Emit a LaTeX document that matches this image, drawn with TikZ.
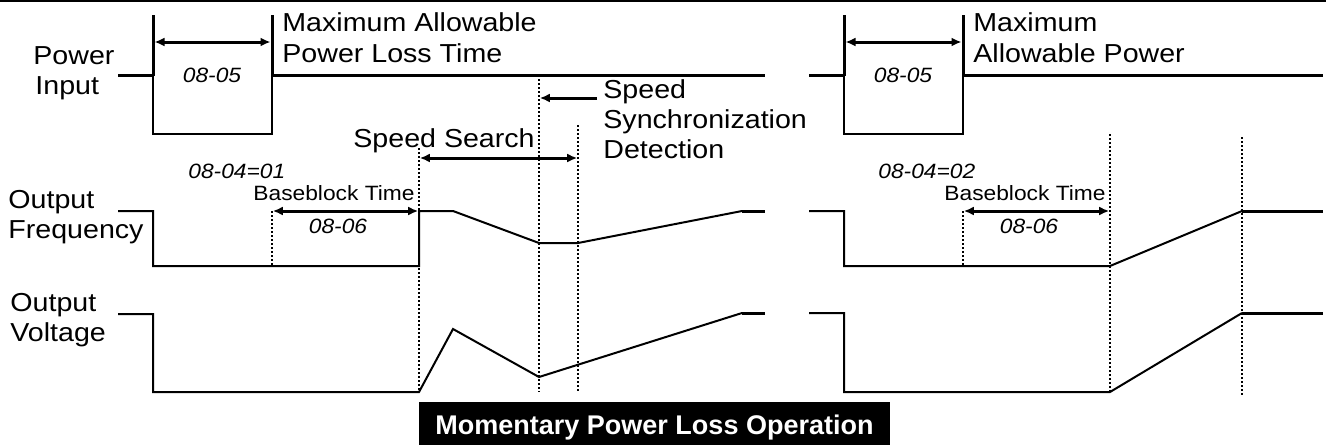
\documentclass[tikz,border=0pt]{standalone}
\usepackage{fontspec}
\setmainfont{Liberation Sans}
\newfontfamily\wf[FakeStretch=1.1]{Liberation Sans}
\usetikzlibrary{arrows.meta}
\begin{document}
\begin{tikzpicture}[x=0.5pt,y=-0.5pt,
  sig/.style={line width=1pt, line join=miter},
  hi/.style={line width=1.5pt},
  dotl/.style={line width=0.75pt, dash pattern=on 1.2pt off 0.8pt},
  dim/.style={line width=1.5pt, {Latex[length=5pt,width=4.5pt]}-{Latex[length=5pt,width=4.5pt]}},
  onearrow/.style={line width=1.5pt, -{Latex[length=5pt,width=4.5pt]}},
  lbl/.style={font=\wf\fontsize{13}{15}\selectfont, anchor=base west, inner sep=0},
  sm/.style={font=\wf\fontsize{10.35}{12}\selectfont, anchor=base west, inner sep=0},
  smi/.style={font=\wf\itshape\fontsize{10.35}{12}\selectfont, anchor=base, inner sep=0},
  smil/.style={font=\wf\itshape\fontsize{10.35}{12}\selectfont, anchor=base west, inner sep=0}]
\useasboundingbox (0,0) rectangle (1326,445);
% top rule
\draw[line width=1pt] (0,0.5) -- (1326,0.5);

% ---------- left side ----------
\node[lbl] (pw) at (33,64) {Power};
\node[lbl] (pin) at (35,94) {Input};
\node[lbl] (fo) at (8,208) {Output};
\node[lbl] (ff) at (8,238) {Frequency};
\node[lbl] (vo) at (10,311) {Output};
\node[lbl] (vv) at (10,341) {Voltage};

% power input
\draw[sig] (153,75) -- (153,134) -- (272,134) -- (272,75);
\draw[hi] (118,75) -- (153,75);
\draw[hi] (272,75) -- (765,75);
\draw[hi] (153,15) -- (153,76);
\draw[hi] (272,15) -- (272,76);
\coordinate (pl1) at (153,42); \coordinate (pl2) at (272,42);
\draw[dim] ([xshift=0.75pt]pl1) -- ([xshift=-0.75pt]pl2);
\node[smi] (t0805a) at (212,82) {08-05};
\node[lbl] (maxa) at (282,31) {Maximum Allowable};
\node[lbl] (maxb) at (282,62) {Power Loss Time};

% output frequency
\draw[sig] (118,211) -- (153,211) -- (153,266) -- (419,266) -- (419,211) -- (453,211) -- (539,243) -- (578,243) -- (742,211);
\draw[hi] (742,211) -- (765,211);
% output voltage
\draw[sig] (118,314) -- (153,314) -- (153,392) -- (419,392) -- (453,329) -- (539,377) -- (742,313);
\draw[hi] (742,313) -- (765,313);

% dotted guides
\draw[dotl] (272,211) -- (272,266);
\draw[dotl] (419,148) -- (419,392);
\draw[dotl] (539,75) -- (539,392);
\draw[dotl] (578,125) -- (578,392);

% baseblock
\node[smil] (c0804a) at (188,178) {08-04=01};
\node[sm] (bba) at (253,200) {Baseblock Time};
\coordinate (b1) at (272,211); \coordinate (b2) at (419,211);
\draw[dim] ([xshift=0.4pt]b1) -- ([xshift=-0.4pt]b2);
\node[smi] (t0806a) at (338,233) {08-06};

% speed search
\node[lbl] (ss) at (353,147) {Speed Search};
\coordinate (s1) at (419,158); \coordinate (s2) at (578,158);
\draw[dim] ([xshift=0.4pt]s1) -- ([xshift=-0.4pt]s2);
\coordinate (sy0) at (597,98); \coordinate (sy1) at (539,98);
\draw[onearrow] (sy0) -- ([xshift=0.4pt]sy1);
\node[lbl] (sp1) at (603,98) {Speed};
\node[lbl] (sp2) at (603,128) {Synchronization};
\node[lbl] (sp3) at (603,158) {Detection};

% ---------- right side ----------
\draw[sig] (844,75) -- (844,134) -- (963,134) -- (963,75);
\draw[hi] (809,75) -- (844,75);
\draw[hi] (963,75) -- (1323,75);
\draw[hi] (844,15) -- (844,76);
\draw[hi] (963,15) -- (963,76);
\coordinate (pr1) at (844,42); \coordinate (pr2) at (963,42);
\draw[dim] ([xshift=0.75pt]pr1) -- ([xshift=-0.75pt]pr2);
\node[smi] (t0805b) at (903,82) {08-05};
\node[lbl] (maxc) at (973,31) {Maximum};
\node[lbl] (maxd) at (973,62) {Allowable Power};

\draw[sig] (809,211) -- (844,211) -- (844,266) -- (1110,266) -- (1242,211);
\draw[hi] (1242,211) -- (1323,211);
\draw[sig] (809,313) -- (844,313) -- (844,392) -- (1110,392) -- (1242,313);
\draw[hi] (1242,313) -- (1323,313);

\draw[dotl] (963,211) -- (963,266);
\draw[dotl] (1110,134) -- (1110,392);
\draw[dotl] (1242,137) -- (1242,395);

\node[smil] (c0804b) at (878,178) {08-04=02};
\node[sm] (bbb) at (944,200) {Baseblock Time};
\coordinate (b3) at (963,211); \coordinate (b4) at (1110,211);
\draw[dim] ([xshift=0.4pt]b3) -- ([xshift=-0.4pt]b4);
\node[smi] (t0806b) at (1029,233) {08-06};

% ---------- title ----------
\fill[black] (419,402) rectangle (890,445);
\node[font=\bfseries\fontsize{13.5}{15}\selectfont, text=white, inner sep=0, anchor=base] (title) at (654.5,434) {Momentary Power Loss Operation};
\end{tikzpicture}
\end{document}
